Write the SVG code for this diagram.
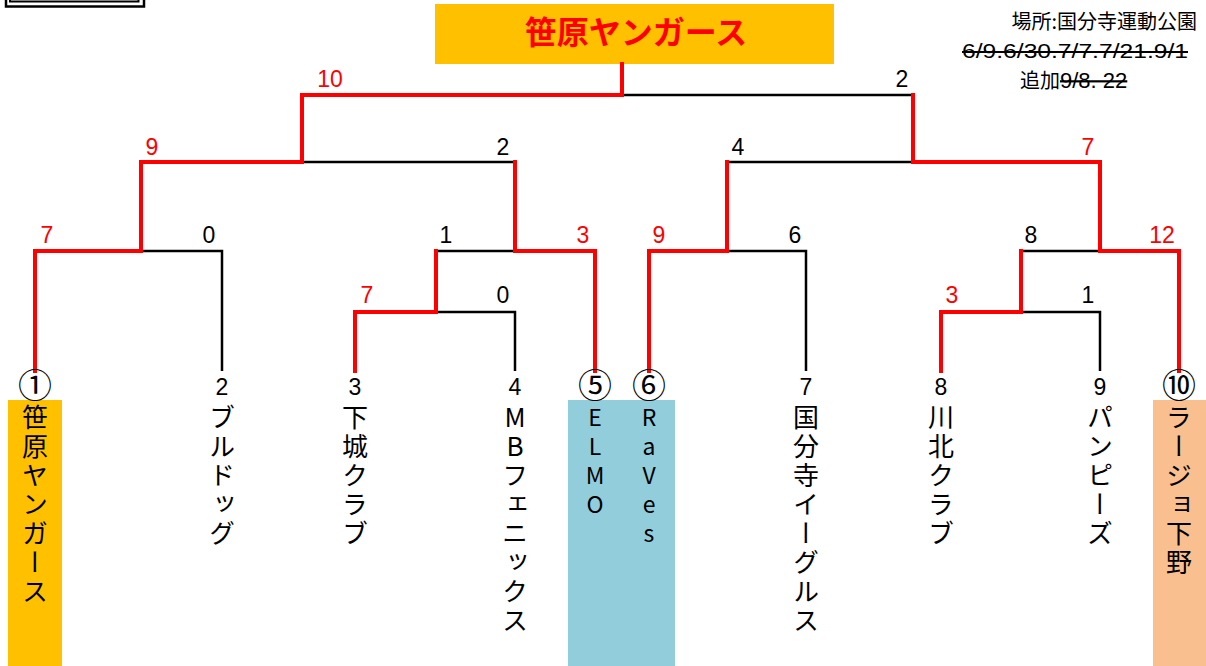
<svg xmlns="http://www.w3.org/2000/svg" width="1206" height="666" viewBox="0 0 1206 666">
<style>
.jp{font-family:"Noto Sans CJK JP","Liberation Sans",sans-serif;}
.num{font-family:"Liberation Sans","Noto Sans CJK JP",sans-serif;font-size:23px;text-anchor:middle;}
.red{fill:#FF0000;}
.blk{fill:#000000;}
.seed{font-family:"Liberation Sans","Noto Sans CJK JP",sans-serif;font-size:23px;text-anchor:middle;fill:#000;}
.circ{font-family:"Noto Sans CJK JP",sans-serif;font-size:34px;text-anchor:middle;fill:#000;}
.name{font-family:"Noto Sans CJK JP",sans-serif;font-size:26px;fill:#000;writing-mode:vertical-rl;text-orientation:upright;letter-spacing:3px;}
.lat{font-family:"Noto Sans CJK JP",sans-serif;font-size:23px;fill:#000;writing-mode:vertical-rl;text-orientation:upright;letter-spacing:6px;}
.wr{fill:none;stroke:#FF0000;stroke-width:4;stroke-linecap:square;}
.ls{fill:none;stroke:#000;stroke-width:2.5;}
</style>
<rect width="1206" height="666" fill="#FFFFFF"/>
<g id="corner-box" fill="none" stroke="#000">
<rect x="6" y="-20" width="138" height="26.5" stroke-width="2.5"/>
<rect x="10" y="-20" width="128.5" height="21.5" stroke-width="2"/>
</g>
<g id="info" class="jp" fill="#000">
<text x="1197" y="29" font-size="20" text-anchor="end">場所:国分寺運動公園</text>
<text x="962" y="58" font-size="20" textLength="226" lengthAdjust="spacingAndGlyphs" text-decoration="line-through" font-family="Liberation Sans,sans-serif">6/9.6/30.7/7.7/21.9/1</text>
<text x="1020" y="88" font-size="20">追加<tspan font-size="22" text-decoration="line-through" font-family="Liberation Sans,sans-serif">9/8. 22</tspan></text>
</g>
<g id="champion">
<rect x="435" y="4" width="399" height="60" fill="#FFC000"/>
<text x="636" y="44" class="jp" font-size="32" font-weight="bold" fill="#FF0000" text-anchor="middle">笹原ヤンガース</text>
</g>
<g id="connectors">
<path class="ls" d="M141 251H222V371 M436 312H515V371 M436 251H515 M302 162H515 M727 251H806V371 M1021 312H1100V371 M1021 251H1100 M727 162H913 M622 95H913"/>
<path class="wr" d="M35 371V251H141V162H302V95H622V64"/>
<path class="wr" d="M355 371V312H436V251"/>
<path class="wr" d="M595 371V251H515V162"/>
<path class="wr" d="M649 371V251H727V162"/>
<path class="wr" d="M941 371V312H1021V251"/>
<path class="wr" d="M1179 371V251H1100V162H913V95"/>
</g>
<g id="scores">
<text class="num red" x="330" y="87">10</text>
<text class="num blk" x="902" y="87">2</text>
<text class="num red" x="152" y="155">9</text>
<text class="num blk" x="503" y="155">2</text>
<text class="num blk" x="738" y="155">4</text>
<text class="num red" x="1088" y="155">7</text>
<text class="num red" x="47" y="243">7</text>
<text class="num blk" x="209" y="243">0</text>
<text class="num blk" x="446" y="243">1</text>
<text class="num red" x="583" y="243">3</text>
<text class="num red" x="659" y="243">9</text>
<text class="num blk" x="795" y="243">6</text>
<text class="num blk" x="1031" y="243">8</text>
<text class="num red" x="1162" y="243">12</text>
<text class="num red" x="367" y="303">7</text>
<text class="num blk" x="503" y="303">0</text>
<text class="num red" x="952" y="303">3</text>
<text class="num blk" x="1088" y="303">1</text>
</g>
<g id="team1">
<rect x="8" y="400" width="54" height="266" fill="#FFC000"/>
<text class="circ" x="35" y="398">①</text>
<text class="name" x="35" y="404">笹原ヤンガース</text>
</g>
<g id="team2">
<text class="seed" x="222" y="395">2</text>
<text class="name" x="222" y="404">ブルドッグ</text>
</g>
<g id="team3">
<text class="seed" x="355" y="395">3</text>
<text class="name" x="355" y="404">下城クラブ</text>
</g>
<g id="team4">
<text class="seed" x="515" y="395">4</text>
<text class="name" x="515" y="404">MBフェニックス</text>
</g>
<rect x="568" y="400" width="107" height="266" fill="#92CDDC"/>
<g id="team5">
<text class="circ" x="595" y="398">⑤</text>
<text class="lat" x="595" y="406">ELMO</text>
</g>
<g id="team6">
<text class="circ" x="649" y="398">⑥</text>
<text class="lat" x="649" y="406">RaVes</text>
</g>
<g id="team7">
<text class="seed" x="806" y="395">7</text>
<text class="name" x="806" y="404">国分寺イーグルス</text>
</g>
<g id="team8">
<text class="seed" x="941" y="395">8</text>
<text class="name" x="941" y="404">川北クラブ</text>
</g>
<g id="team9">
<text class="seed" x="1100" y="395">9</text>
<text class="name" x="1100" y="404">パンピーズ</text>
</g>
<g id="team10">
<rect x="1153" y="400" width="53" height="266" fill="#FABF8F"/>
<text class="circ" x="1179" y="398">⑩</text>
<text class="name" x="1179" y="404">ラージョ下野</text>
</g>
</svg>
